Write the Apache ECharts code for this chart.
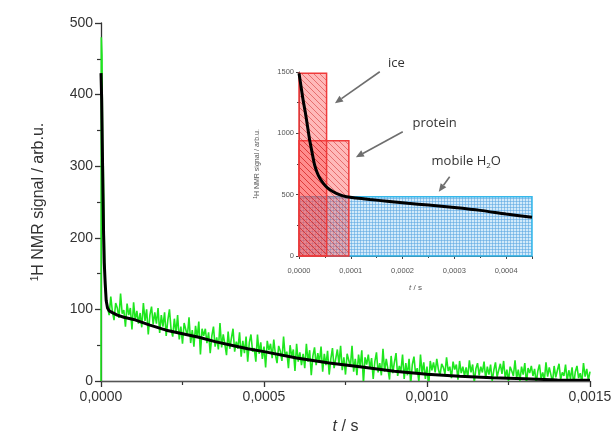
<!DOCTYPE html>
<html>
<head>
<meta charset="utf-8">
<script src="https://cdn.jsdelivr.net/npm/echarts@6/dist/echarts.min.js"></script>
<style>
html,body{margin:0;padding:0;background:#fff;}
#chart{width:616px;height:441px;}
</style>
</head>
<body>
<div id="chart"></div>
<script>
// ---------------- data ----------------
// black fit curve (main plot)
const fitT = [0, 0.000002, 0.000004, 0.000006, 0.000008, 0.00001, 0.000013, 0.000016, 0.00002, 0.000025, 0.000035, 0.00005, 0.00007, 0.0001, 0.00015, 0.0002, 0.00025, 0.0003, 0.00035, 0.0004, 0.00045, 0.0005, 0.0006, 0.0007, 0.0008, 0.0009, 0.001, 0.0011, 0.0012, 0.0013, 0.0014, 0.0015];
const fitV = [430, 395, 330, 262, 205, 165, 135, 112, 102, 98, 95.5, 92, 89, 86, 78, 71, 66, 61, 55, 50, 45, 41, 32, 25, 19.5, 13.5, 9.5, 6.5, 4.5, 3, 1.5, 1];

// green measured signal: first microseconds
const greenEarlyT = [0, 0.000001, 0.000003, 0.000005, 0.000007, 0.000009, 0.000011, 0.000013, 0.000015, 0.000017];
const greenEarlyV = [0, 480, 455, 320, 300, 232, 170, 140, 118, 110];
// green measured signal: sampled every greenDt from greenT0
const greenT0 = 0.00002;
const greenDt = 0.000005;
const greenV = [
  112, 92, 118, 97, 85, 109, 102, 88, 122, 94, 99, 76, 108, 92, 102, 72, 110, 85, 98, 80,
  95, 75, 109, 84, 100, 65, 92, 104, 79, 96, 80, 102, 67, 92, 76, 96, 63, 85, 100, 72,
  62, 87, 67, 92, 58, 76, 52, 81, 72, 63, 89, 53, 71, 48, 77, 60, 83, 37, 73, 63,
  73, 53, 68, 39, 63, 76, 48, 61, 44, 81, 47, 65, 51, 36, 69, 45, 60, 73, 41, 55,
  45, 68, 34, 56, 39, 62, 27, 54, 65, 41, 46, 27, 65, 38, 54, 31, 48, 19, 56, 43,
  52, 32, 58, 37, 25, 49, 42, 28, 62, 34, 41, 18, 50, 34, 44, 14, 52, 27, 40, 22,
  38, 18, 52, 27, 43, 8, 35, 47, 22, 39, 26, 48, 13, 38, 22, 42, 9, 31, 46, 18,
  19, 44, 24, 49, 15, 33, 9, 38, 29, 20, 49, 13, 31, 8, 37, 20, 43, -3, 33, 23,
  37, 17, 32, 3, 27, 40, 12, 25, 8, 45, 13, 31, 17, 2, 35, 11, 26, 39, 7, 21,
  14, 37, 3, 25, 8, 31, -4, 23, 34, 10, 18, -1, 37, 10, 26, 3, 20, -9, 28, 15,
  26, 12, 31, 16, 8, 24, 19, 10, 33, 14, 20, 4, 27, 16, 23, 2, 28, 11, 20, 7,
  19, 5, 29, 12, 23, -2, 17, 25, 8, 20, 12, 27, 3, 20, 9, 23, 0, 15, 26, 6,
  7, 24, 10, 28, 4, 16, 0, 20, 14, 7, 29, 4, 16, 0, 20, 9, 25, -3, 18, 11,
  21, 7, 17, -3, 14, 23, 3, 12, 1, 26, 6, 19, 9, -2, 21, 5, 15, 24, 2, 12,
  7, 23, 0, 15, 3, 19, -5, 13, 21, 4, 11, -2, 25, 6, 17, 1, 13
];

// inset: fit curve
const insetFitT = [0, 0.000004, 0.000008, 0.000012, 0.000016, 0.00002, 0.000025, 0.00003, 0.000035, 0.00004, 0.000047, 0.000055, 0.000066, 0.000078, 0.000092, 0.00011, 0.000137, 0.00017, 0.00021, 0.00025, 0.0003, 0.00035, 0.0004, 0.00045];
const insetFitV = [1490, 1380, 1270, 1175, 1070, 960, 850, 745, 680, 635, 592, 555, 524, 500, 483, 472, 460, 447, 430, 415, 395, 372, 342, 315];
// inset: component boxes (start t, end t, amplitude)
const boxNames = ['mobile H2O', 'protein', 'ice'];
const boxStartT = [0, 0, 0];
const boxEndT = [0.00045, 0.0000963, 0.0000533];
const boxAmp = [483, 940, 1489];
// inset: annotations
const annoLabels = ['ice', 'protein', 'mobile H{sub|2}O'];
const annoTextT = [0.000188, 0.000262, 0.000323];
const annoTextV = [1571, 1084, 769];
const arrowFromT = [0.000156, 0.0002004, 0.000291];
const arrowFromV = [1502, 1013, 646];
const arrowToT = [0.0000694, 0.0001098, 0.00027];
const arrowToV = [1245, 805, 524];

// ---------------- build ----------------
const fitData = fitT.map((t, i) => [t, fitV[i]]);
const greenData = greenEarlyT.map((t, i) => [t, greenEarlyV[i]])
  .concat(greenV.map((v, i) => [greenT0 + i * greenDt, v]));
const insetFitData = insetFitT.map((t, i) => [t, insetFitV[i]]);
const boxData = boxNames.map((n, i) => [boxStartT[i], boxEndT[i], boxAmp[i]]);

function makePattern(kind) {
  const c = document.createElement('canvas');
  if (kind === 'red') {
    c.width = 6; c.height = 6;
    const g = c.getContext('2d');
    g.fillStyle = 'rgba(255,70,70,0.38)';
    g.fillRect(0, 0, 6, 6);
    g.strokeStyle = 'rgba(200,20,20,0.45)';
    g.lineWidth = 1;
    g.beginPath();
    g.moveTo(-1, -1); g.lineTo(7, 7);
    g.moveTo(-1, 5); g.lineTo(1, 7);
    g.moveTo(5, -1); g.lineTo(7, 1);
    g.stroke();
  } else {
    c.width = 3; c.height = 3;
    const g = c.getContext('2d');
    g.fillStyle = 'rgba(205,232,250,0.9)';
    g.fillRect(0, 0, 3, 3);
    g.fillStyle = 'rgba(90,165,225,0.55)';
    g.fillRect(0, 0, 3, 1);
    g.fillRect(0, 0, 1, 3);
  }
  return c;
}
const redPat = makePattern('red');
const bluePat = makePattern('blue');

const fmt4 = v => v.toFixed(4).replace('.', ',');
const axisCol = '#333';

const chart = echarts.init(document.getElementById('chart'), null, {renderer: 'canvas'});
const option = {
  backgroundColor: '#fff',
  animation: false,
  grid: [
    {left: 101, right: 26, top: 23, bottom: 60},
    {left: 299, top: 72, width: 233, height: 184}
  ],
  xAxis: [
    {
      gridIndex: 0, type: 'value', min: 0, max: 0.0015, interval: 0.0005,
      offset: 3,
      axisLine: {lineStyle: {color: axisCol, width: 1.3}},
      axisTick: {length: 6, lineStyle: {color: axisCol, width: 1.3}},
      minorTick: {show: true, splitNumber: 2, length: 4, lineStyle: {color: axisCol, width: 1.2}},
      splitLine: {show: false},
      axisLabel: {formatter: fmt4, color: '#333', fontSize: 14, fontFamily: 'Liberation Sans, Arial', margin: 6},
      name: '{i|t} / s', nameLocation: 'middle', nameGap: 35,
      nameTextStyle: {color: '#333', fontSize: 16, fontFamily: 'Liberation Sans, Arial',
        rich: {i: {fontStyle: 'italic', fontSize: 16, fontFamily: 'Liberation Sans, Arial', color: '#333'}}}
    },
    {
      gridIndex: 1, type: 'value', min: 0, max: 0.00045, interval: 0.0001,
      axisLine: {lineStyle: {color: '#444', width: 1}},
      axisTick: {length: 3, lineStyle: {color: '#444'}},
      minorTick: {show: true, splitNumber: 2, length: 2, lineStyle: {color: '#444'}},
      splitLine: {show: false},
      axisLabel: {formatter: v => (v > 0.00044 ? '' : fmt4(v)), color: '#555', fontSize: 7.5, fontFamily: 'Liberation Sans, Arial', margin: 11},
      name: '{i|t} / s', nameLocation: 'middle', nameGap: 28,
      nameTextStyle: {color: '#555', fontSize: 8, fontFamily: 'Liberation Sans, Arial',
        rich: {i: {fontStyle: 'italic', fontSize: 8, fontFamily: 'Liberation Sans, Arial', color: '#555'}}}
    }
  ],
  yAxis: [
    {
      gridIndex: 0, type: 'value', min: 0, max: 500, interval: 100,
      axisLine: {show: true, lineStyle: {color: axisCol, width: 1.3}},
      axisTick: {show: true, length: 6, lineStyle: {color: axisCol, width: 1.3}},
      minorTick: {show: true, splitNumber: 2, length: 4, lineStyle: {color: axisCol, width: 1.2}},
      splitLine: {show: false},
      axisLabel: {color: '#333', fontSize: 14, fontFamily: 'Liberation Sans, Arial', margin: 8},
      name: '{s|1}H NMR signal / arb.u.', nameLocation: 'middle', nameGap: 53,
      nameTextStyle: {color: '#333', fontSize: 16, fontFamily: 'Liberation Sans, Arial',
        rich: {s: {fontSize: 10, verticalAlign: 'bottom', color: '#333', fontFamily: 'Liberation Sans, Arial', padding: [0, 0, 8, 0]}}}
    },
    {
      gridIndex: 1, type: 'value', min: 0, max: 1500, interval: 500,
      axisLine: {show: true, lineStyle: {color: '#444', width: 1}},
      axisTick: {show: true, length: 3, lineStyle: {color: '#444'}},
      minorTick: {show: true, splitNumber: 2, length: 2, lineStyle: {color: '#444'}},
      splitLine: {show: false},
      axisLabel: {formatter: v => String(v), color: '#555', fontSize: 7.5, fontFamily: 'Liberation Sans, Arial', margin: 5},
      name: '{s|1}H NMR signal / arb.u.', nameLocation: 'middle', nameGap: 37,
      nameTextStyle: {color: '#555', fontSize: 7, fontFamily: 'Liberation Sans, Arial',
        rich: {s: {fontSize: 5, color: '#555', padding: [0, 0, 4, 0]}}}
    }
  ],
  series: [
    {
      type: 'line', xAxisIndex: 0, yAxisIndex: 0, data: greenData,
      showSymbol: false, symbol: 'none', clip: true,
      lineStyle: {color: '#1ee61e', width: 1.6},
      markLine: {
        silent: true, symbol: 'none', label: {show: false},
        lineStyle: {color: '#555', width: 1, type: 'solid'},
        data: [{yAxis: 0}]
      },
      z: 2
    },
    {
      type: 'line', xAxisIndex: 0, yAxisIndex: 0, data: fitData,
      showSymbol: false, symbol: 'none',
      lineStyle: {color: '#000', width: 3},
      z: 3
    },
    {
      type: 'custom', xAxisIndex: 1, yAxisIndex: 1, data: boxData,
      encode: {x: [0, 1], y: [2]},
      renderItem: function (params, api) {
        const p0 = api.coord([api.value(0), 0]);
        const p1 = api.coord([api.value(1), api.value(2)]);
        const isBlue = params.dataIndex === 0;
        return {
          type: 'rect',
          shape: {x: p0[0], y: p1[1], width: p1[0] - p0[0], height: p0[1] - p1[1]},
          style: {
            fill: {image: isBlue ? bluePat : redPat, repeat: 'repeat'},
            stroke: isBlue ? '#35b8ea' : '#f03a3a',
            lineWidth: 1.5
          }
        };
      },
      z: 2
    },
    {
      type: 'line', xAxisIndex: 1, yAxisIndex: 1, data: insetFitData,
      showSymbol: false, symbol: 'none', smooth: 0.3,
      lineStyle: {color: '#000', width: 3},
      z: 4
    }
  ]
};
chart.setOption(option);

// annotations placed through the inset's own scales
const gfx = [];
annoLabels.forEach((txt, i) => {
  const p = chart.convertToPixel({gridIndex: 1}, [annoTextT[i], annoTextV[i]]);
  gfx.push({
    type: 'text', x: p[0], y: p[1], z: 10,
    style: {
      text: txt, fill: '#333', font: '13px "Open Sans", sans-serif',
      align: 'center', verticalAlign: 'middle',
      rich: {sub: {fontSize: 8, fill: '#333', fontFamily: 'Open Sans', padding: [8, 0, 0, 0]}}
    }
  });
  const a = chart.convertToPixel({gridIndex: 1}, [arrowFromT[i], arrowFromV[i]]);
  const b = chart.convertToPixel({gridIndex: 1}, [arrowToT[i], arrowToV[i]]);
  const dx = b[0] - a[0], dy = b[1] - a[1];
  const L = Math.sqrt(dx * dx + dy * dy);
  const ux = dx / L, uy = dy / L;
  const hl = 8, hw = 3.5;
  const bx = b[0] - ux * hl, by = b[1] - uy * hl;
  gfx.push({
    type: 'line', z: 10,
    shape: {x1: a[0], y1: a[1], x2: bx, y2: by},
    style: {stroke: '#6e6e6e', lineWidth: 1.6}
  });
  gfx.push({
    type: 'polygon', z: 10,
    shape: {points: [[b[0], b[1]], [bx - uy * hw, by + ux * hw], [bx + uy * hw, by - ux * hw]]},
    style: {fill: '#6e6e6e'}
  });
});
chart.setOption({graphic: gfx});
</script>
</body>
</html>
